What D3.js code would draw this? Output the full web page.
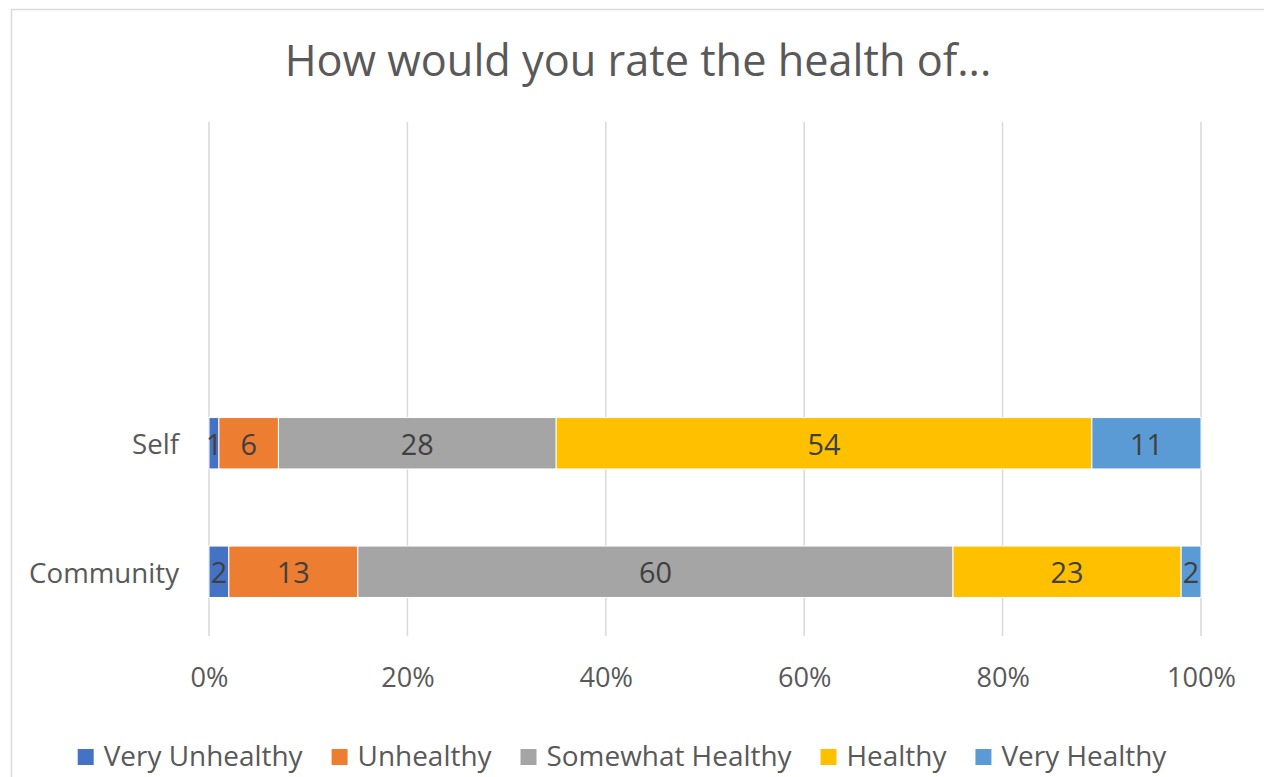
<!DOCTYPE html>
<html><head><meta charset="utf-8">
<script src="https://cdn.jsdelivr.net/npm/d3@7"></script>
<style>body{margin:0;background:#fff}svg{display:block}text{font-family:"Open Sans","Noto Sans",sans-serif}</style>
</head><body><svg id="c" width="1264" height="777"></svg>
<script>
const categories = ["Self", "Community"];
const seriesNames = ["Very Unhealthy", "Unhealthy", "Somewhat Healthy", "Healthy", "Very Healthy"];
const seriesColors = ["#4472C4", "#ED7D31", "#A5A5A5", "#FFC000", "#5B9BD5"];
const veryUnhealthy = [1, 2];
const unhealthy = [6, 13];
const somewhatHealthy = [28, 60];
const healthy = [54, 23];
const veryHealthy = [11, 2];
const tickValues = [0, 0.2, 0.4, 0.6, 0.8, 1.0];
const title = "How would you rate the health of...";

const seriesValues = [veryUnhealthy, unhealthy, somewhatHealthy, healthy, veryHealthy];
const svg = d3.select("#c");

function fitSize(sel, target) {
  sel.attr("font-size", 20);
  const w = sel.node().getComputedTextLength();
  return 20 * target / w;
}

// chart border
svg.append("rect").attr("x", 11.5).attr("y", 9.5).attr("width", 1300).attr("height", 800)
  .attr("fill", "#fff").attr("stroke", "#d9d9d9").attr("stroke-width", 1.5);

const x = d3.scaleLinear().domain([0, 1]).range([209, 1201]);
// Excel reserves two empty category slots above the plotted ones
const y = d3.scaleBand().domain(["", " ", ...categories]).range([122, 636]);
const barH = y.bandwidth() * 0.4;

// gridlines
const grid = svg.append("g").attr("transform", "translate(0,0)")
  .call(d3.axisBottom(x).tickValues(tickValues).tickSize(0).tickFormat(""));
grid.select(".domain").remove();
svg.append("g").selectAll("line").data(tickValues).join("line")
  .attr("x1", d => x(d)).attr("x2", d => x(d)).attr("y1", 122).attr("y2", 636)
  .attr("stroke", "#d9d9d9").attr("stroke-width", 1.5);

// tick labels
const ax = svg.append("g").attr("transform", "translate(0,687)")
  .call(d3.axisBottom(x).tickValues(tickValues).tickSize(0).tickPadding(0).tickFormat(d3.format(".0%")));
ax.select(".domain").remove();
const tickText = ax.selectAll("text").attr("fill", "#595959").attr("dy", 0).attr("font-family", null);
const tfs = fitSize(ax.selectAll("text").filter(d => d === 1), 69);
tickText.attr("font-size", tfs);

// stacked data
const rows = categories.map((c, i) => {
  const o = { cat: c, total: 0 };
  seriesNames.forEach((s, j) => { o[s] = seriesValues[j][i]; o.total += seriesValues[j][i]; });
  return o;
});
const stack = d3.stack().keys(seriesNames).value((d, k) => d[k] / d.total)(rows);

const layers = svg.append("g").selectAll("g").data(stack).join("g")
  .attr("fill", (d, i) => seriesColors[i]);
layers.selectAll("rect").data(d => d).join("rect")
  .attr("x", d => x(d[0])).attr("width", d => x(d[1]) - x(d[0]))
  .attr("y", d => y(d.data.cat) + (y.bandwidth() - barH) / 2).attr("height", barH)
  .attr("stroke", "#fff").attr("stroke-width", 1);

// data labels
const lbl = svg.append("g");
stack.forEach((layer, i) => {
  layer.forEach(d => {
    lbl.append("text").attr("class", "dl")
      .attr("x", (x(d[0]) + x(d[1])) / 2)
      .attr("y", y(d.data.cat) + y.bandwidth() / 2)
      .attr("text-anchor", "middle").attr("dominant-baseline", "central")
      .attr("fill", "#404040").text(d.data[seriesNames[i]]);
  });
});
const dfs = fitSize(lbl.selectAll("text").filter(function(){ return this.textContent === "28"; }), 33);
lbl.selectAll("text").attr("font-size", dfs);

// category labels
const cl = svg.append("g").selectAll("text").data(categories).join("text")
  .attr("x", 179).attr("y", d => y(d) + y.bandwidth() / 2)
  .attr("text-anchor", "end").attr("dominant-baseline", "central")
  .attr("fill", "#595959").text(d => d);
const cfs = fitSize(cl.filter(d => d === "Community"), 150);
cl.attr("font-size", cfs);

// title
const t = svg.append("text").attr("x", 638).attr("y", 76).attr("text-anchor", "middle")
  .attr("fill", "#595959").text(title);
t.attr("font-size", fitSize(t, 707));

// legend
const lg = svg.append("g");
const items = seriesNames.map((s, i) => {
  const g = lg.append("g");
  g.append("rect").attr("width", 16).attr("height", 16).attr("y", 749).attr("fill", seriesColors[i]);
  const tx = g.append("text").attr("y", 766).attr("fill", "#595959").text(s);
  return { g, tx };
});
const lfs = fitSize(items[0].tx, 199);
items.forEach(it => it.tx.attr("font-size", lfs));
const widths = items.map(it => 16 + 10 + it.tx.node().getComputedTextLength());
const gap = 29;
const total = d3.sum(widths) + gap * (items.length - 1);
let cx = 622 - total / 2;
items.forEach((it, i) => {
  it.g.select("rect").attr("x", cx);
  it.tx.attr("x", cx + 26);
  cx += widths[i] + gap;
});
</script></body></html>
